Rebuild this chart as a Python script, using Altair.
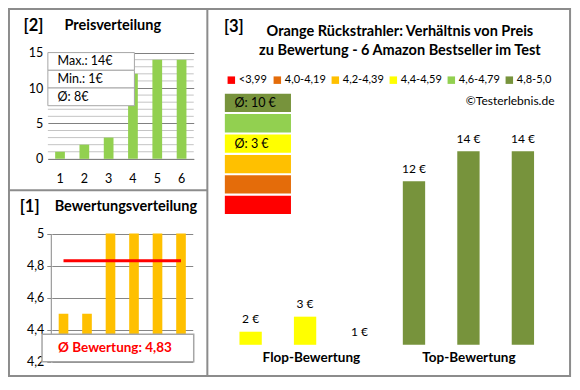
import altair as alt
import pandas as pd

W, H = 564, 370
SX, SY = W / 580, H / 390


def X(v):
    return v * SX


def Y(v):
    return v * SY


FONT = "Lato"
FRAME = "#8c8c8c"

# ---------------- data ----------------
price_idx = ["1", "2", "3", "4", "5", "6"]
price_vals = [1, 2, 3, 12, 14, 14]
price_ticks = [0, 5, 10, 15]
price_info = ["Max.: 14€", "Min.: 1€", "Ø: 8€"]

rating_idx = ["1", "2", "3", "4", "5", "6"]
rating_vals = [4.5, 4.5, 5.0, 5.0, 5.0, 5.0]
rating_ticks = [4.2, 4.4, 4.6, 4.8, 5.0]
rating_mean = 4.83
rating_text = "Ø Bewertung: 4,83"

cats = ["<3,99", "4,0-4,19", "4,2-4,39", "4,4-4,59", "4,6-4,79", "4,8-5,0"]
cat_colors = ["#FF0000", "#E46C0A", "#FFC000", "#FFFF00", "#92D050", "#77933C"]
block_cats = ["4,8-5,0", "4,4-4,59"]
block_notes = ["Ø: 10 €", "Ø: 3 €"]

prod = ["p1", "p2", "p3", "p4", "p5", "p6"]
prod_price = [2, 3, 1, 12, 14, 14]
prod_labels = ["2 €", "3 €", "1 €", "12 €", "14 €", "14 €"]
prod_cat = ["4,4-4,59", "4,4-4,59", "4,8-5,0", "4,8-5,0", "4,8-5,0", "4,8-5,0"]
groups = ["Flop-Bewertung", "Top-Bewertung"]

one = pd.DataFrame({"k": [0]})


def deco_rect(x1, x2, y1, y2, fill="transparent", stroke=FRAME, sw=1.0):
    return alt.Chart(one).mark_rect(fill=fill, stroke=stroke, strokeWidth=sw).encode(
        x=alt.value(X(x1)), x2=alt.value(X(x2)), y=alt.value(Y(y1)), y2=alt.value(Y(y2))
    )


def deco_rule(x1, x2, y1, y2, color=FRAME, sw=2.0):
    return alt.Chart(one).mark_rule(color=color, strokeWidth=sw).encode(
        x=alt.value(X(x1)), x2=alt.value(X(x2)), y=alt.value(Y(y1)), y2=alt.value(Y(y2))
    )


def label(txt, x, y, size, bold=False, align="left", color="#000000"):
    return alt.Chart(one).mark_text(
        text=txt, font=FONT, fontSize=size, fontWeight="bold" if bold else "normal",
        align=align, baseline="middle", color=color,
    ).encode(x=alt.value(X(x)), y=alt.value(Y(y)))


layers = []

# ---------------- frame ----------------
layers.append(deco_rect(1, 578, 1, 388, sw=2))
layers.append(deco_rule(205, 205, 1, 388))
layers.append(deco_rule(1, 205, 192, 192))

# ---------------- panel [2] Preisverteilung ----------------
layers.append(label("[2]", 16, 19, 16.5, bold=True))
layers.append(label("Preisverteilung", 58, 19, 14.5, bold=True))

p_x = alt.Scale(type="band", domain=price_idx, range=[X(41), X(191)], paddingInner=0.6, paddingOuter=0.3)
p_y = alt.Scale(domain=[0, 15], range=[Y(159), Y(47)])

minor = pd.DataFrame({"g": [v for v in range(1, 16) if v % 5]})
layers.append(
    alt.Chart(minor).mark_rule(color="#c4c4c4", strokeWidth=1).encode(
        y=alt.Y("g:Q", scale=p_y, axis=None), x=alt.value(X(41)), x2=alt.value(X(191))
    )
)
df_p = pd.DataFrame({"idx": price_idx, "val": price_vals})
layers.append(
    alt.Chart(df_p).mark_bar(color="#92D050").encode(
        x=alt.X("idx:N", scale=p_x, sort=price_idx, title=None,
                axis=alt.Axis(orient="bottom", offset=Y(159) - H, domainColor="#808080", domainWidth=1,
                              ticks=False, tickSize=0, labelPadding=14, labelFont=FONT, labelFontSize=12.5,
                              labelColor="#000000", labelAngle=0, grid=False, zindex=0)),
        y=alt.Y("val:Q", scale=p_y, title=None,
                axis=alt.Axis(orient="left", offset=-X(41), values=price_ticks, grid=True, gridColor="#808080",
                              domain=False, ticks=False, tickSize=0, labelPadding=5, labelFont=FONT,
                              labelFontSize=12.5, labelColor="#000000", zindex=0)),
    )
)
info_y = alt.Scale(type="band", domain=price_info, range=[Y(47), Y(103)], paddingInner=0, paddingOuter=0)
df_info = pd.DataFrame({"t": price_info})
layers.append(
    alt.Chart(df_info).mark_rect(fill="white", stroke="#a6a6a6", strokeWidth=1).encode(
        y=alt.Y("t:N", scale=info_y, sort=price_info, axis=None), x=alt.value(X(41)), x2=alt.value(X(130))
    )
)
layers.append(
    alt.Chart(df_info).mark_text(align="left", baseline="middle", font=FONT, fontSize=12.5, color="#000000").encode(
        y=alt.Y("t:N", scale=info_y, sort=price_info, axis=None), x=alt.value(X(51)), text="t:N"
    )
)

# ---------------- panel [1] Bewertungsverteilung ----------------
layers.append(label("[1]", 12, 210, 16.5, bold=True))
layers.append(label("Bewertungsverteilung", 48, 210, 14.5, bold=True))

r_x = alt.Scale(type="band", domain=rating_idx, range=[X(45), X(190)], paddingInner=0.59, paddingOuter=0.295)
r_y = alt.Scale(domain=[4.2, 5.0], range=[Y(373), Y(237.7)])
df_r = pd.DataFrame({"idx": rating_idx, "val": rating_vals})
layers.append(
    alt.Chart(df_r).mark_bar(color="#FFC000").encode(
        x=alt.X("idx:N", scale=r_x, sort=rating_idx, axis=None),
        y=alt.Y("val:Q", scale=r_y, title=None,
                axis=alt.Axis(orient="left", offset=-X(44), values=rating_ticks, grid=True, gridColor="#868686",
                              domain=True, domainColor="#868686", ticks=True, tickSize=4, tickColor="#868686",
                              labelPadding=3, labelFont=FONT, labelFontSize=12.5, labelColor="#000000",
                              labelExpr="datum.value == 5 ? '5' : replace(format(datum.value, '.1f'), '.', ',')",
                              zindex=0)),
        y2=alt.datum(4.2),
    )
)
df_m = pd.DataFrame({"a": [rating_idx[0]], "b": [rating_idx[-1]], "v": [rating_mean]})
layers.append(
    alt.Chart(df_m).mark_rule(color="#FF0000", strokeWidth=3).encode(
        x=alt.X("a:N", scale=r_x, axis=None, bandPosition=0.5),
        x2=alt.X2("b", bandPosition=0.5),
        y=alt.Y("v:Q", scale=r_y, axis=None),
    )
)
layers.append(deco_rect(35, 191, 344, 373, fill="white", stroke="#a6a6a6", sw=1.5))
layers.append(label(rating_text, 110, 358, 13.5, bold=True, align="center", color="#FF0000"))

# ---------------- panel [3] ----------------
layers.append(label("[3]", 222, 20, 16.5, bold=True))
layers.append(label("Orange Rückstrahler: Verhältnis von Preis", 403, 25, 14.5, bold=True, align="center"))
layers.append(label("zu Bewertung - 6 Amazon Bestseller im Test", 403, 45, 14.5, bold=True, align="center"))
layers.append(label("©Testerlebnis.de", 562, 98, 12, align="right"))

color_scale = alt.Scale(domain=cats, range=cat_colors)
blk_y = alt.Scale(type="band", domain=cats[::-1], range=[Y(89.5), Y(218)], paddingInner=0.1, paddingOuter=0.04)
df_blocks = pd.DataFrame({"cat": cats})
layers.append(
    alt.Chart(df_blocks).mark_rect().encode(
        y=alt.Y("cat:N", scale=blk_y, axis=None),
        x=alt.value(X(223)), x2=alt.value(X(291)),
        color=alt.Color("cat:N", scale=color_scale,
                        legend=alt.Legend(orient="none", legendX=X(224), legendY=Y(70), direction="horizontal",
                                          columns=6, title=None, symbolType="square", symbolSize=56,
                                          symbolStrokeWidth=0, symbolOpacity=1, labelFont=FONT,
                                          labelFontSize=11, labelColor="#000000", labelOffset=2,
                                          columnPadding=4, padding=0)),
    )
)
df_notes = pd.DataFrame({"cat": block_cats, "t": block_notes})
layers.append(
    alt.Chart(df_notes).mark_text(align="left", baseline="middle", font=FONT, fontSize=12.5, color="#000000").encode(
        y=alt.Y("cat:N", scale=blk_y, axis=None), x=alt.value(X(233)), text="t:N"
    )
)

b_x = alt.Scale(type="band", domain=prod, range=[X(221.5), X(557.5)], paddingInner=0.59, paddingOuter=0.295)
b_y = alt.Scale(domain=[1.13, 14], range=[Y(355), Y(151)], clamp=True)
df_prod = pd.DataFrame({"p": prod, "price": prod_price, "cat": prod_cat, "lbl": prod_labels})
layers.append(
    alt.Chart(df_prod).mark_bar().encode(
        x=alt.X("p:N", scale=b_x, sort=prod, axis=None),
        y=alt.Y("price:Q", scale=b_y, axis=None),
        y2=alt.datum(1.13),
        color=alt.Color("cat:N", scale=color_scale, legend=None),
    )
)
layers.append(
    alt.Chart(df_prod).mark_text(baseline="middle", dy=-12.5, font=FONT, fontSize=12, color="#000000").encode(
        x=alt.X("p:N", scale=b_x, sort=prod, axis=None),
        y=alt.Y("price:Q", scale=b_y, axis=None),
        text="lbl:N",
    )
)
g_x = alt.Scale(type="band", domain=groups, range=[X(231), X(555)], paddingInner=0, paddingOuter=0)
df_g = pd.DataFrame({"g": groups})
layers.append(
    alt.Chart(df_g).mark_text(baseline="middle", font=FONT, fontSize=13.5, fontWeight="bold", color="#000000").encode(
        x=alt.X("g:N", scale=g_x, sort=groups, axis=None), y=alt.value(Y(369)), text="g:N"
    )
)

chart = (
    alt.layer(*layers)
    .resolve_scale(x="independent", y="independent", color="independent")
    .resolve_axis(x="independent", y="independent")
    .resolve_legend(color="independent")
    .properties(width=W, height=H, padding=0, autosize=alt.AutoSizeParams(type="none"), background="white")
    .configure_view(stroke=None)
)

chart.save("out.html", embed_options={"renderer": "svg", "actions": False})
